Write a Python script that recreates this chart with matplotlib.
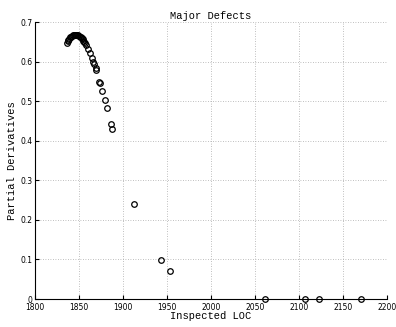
import matplotlib
matplotlib.use('Agg')
import matplotlib.pyplot as plt

# puntos del arco denso
loc_arco = [1836, 1837, 1838, 1839, 1840, 1841, 1842, 1843, 1844, 1845, 1846, 1847,
            1848, 1849, 1850, 1851, 1852, 1853, 1854, 1855, 1856, 1857, 1858]
deriv_arco = [0.647, 0.651, 0.655, 0.658, 0.661, 0.663, 0.665, 0.667, 0.668, 0.668, 0.668,
              0.668, 0.667, 0.666, 0.665, 0.663, 0.661, 0.659, 0.656, 0.653, 0.650, 0.647, 0.643]

# puntos descendentes
loc_resto = [1860.6, 1862.5, 1864.4, 1866, 1867.4, 1869, 1869.7, 1873, 1873.5, 1876.5,
             1879, 1881.5, 1886.4, 1887.5, 1913, 1943, 1953, 2062, 2107, 2123, 2170]
deriv_resto = [0.632, 0.621, 0.609, 0.600, 0.593, 0.585, 0.579, 0.549, 0.545, 0.526,
               0.503, 0.483, 0.441, 0.430, 0.24, 0.098, 0.07, 0.0, 0.0, 0.0, 0.0]

mono = 'Liberation Mono'

fig = plt.figure(figsize=(3.96, 3.27), dpi=100)
ax = fig.add_axes([0.0884, 0.0856, 0.8886, 0.8471])

ax.plot(loc_arco + loc_resto, deriv_arco + deriv_resto, 'o', mfc='none', mec='black',
        ms=4, mew=0.9, clip_on=False)

ax.set_xlim(1800, 2200)
ax.set_ylim(0, 0.7)
ax.set_xticks(range(1800, 2201, 50))
ax.set_yticks([0, 0.1, 0.2, 0.3, 0.4, 0.5, 0.6, 0.7])
ax.set_yticklabels(['0', '0.1', '0.2', '0.3', '0.4', '0.5', '0.6', '0.7'])
ax.tick_params(direction='in', labelsize=5.5, length=3)
ax.tick_params(axis='x', pad=3)
ax.tick_params(axis='y', pad=2)
ax.grid(True, linestyle=(0, (1, 2)), color='#aaaaaa', linewidth=0.6)

ax.spines['top'].set_visible(False)
ax.spines['right'].set_visible(False)

ax.set_title('Major Defects', fontsize=7.5, family=mono, pad=2)
ax.set_xlabel('Inspected LOC', fontsize=7.5, family=mono, labelpad=-0.5)
ax.set_ylabel('Partial Derivatives', fontsize=7.5, family=mono, labelpad=2)

plt.savefig('out.png', dpi=100)
